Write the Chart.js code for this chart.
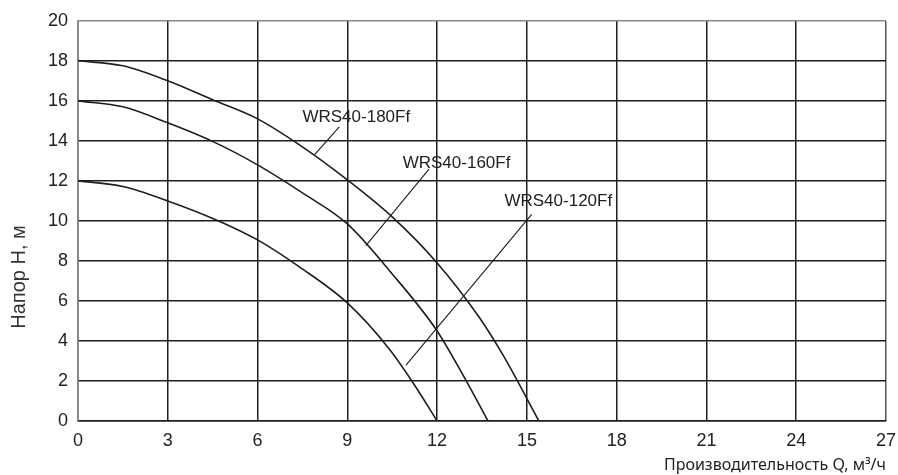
<!DOCTYPE html>
<html>
<head>
<meta charset="utf-8">
<script src="https://cdn.jsdelivr.net/npm/chart.js@4.4.1/dist/chart.umd.min.js"></script>
<style>
    html, body { margin: 0; padding: 0; background: #fff; }
    #wrap { width: 898px; height: 475px; }
</style>
</head>
<body>
<div id="wrap"><canvas id="pumpChart"></canvas></div>
<script>
// curve data: Q (m3/h) -> H (m)
const curve180Q = [0, 1.5, 3, 4.5, 6, 7.4, 9, 10.5, 12, 13.4, 14.2, 15.4];
const curve180H = [18, 17.75, 17.0, 16.05, 15.1, 13.8, 12.05, 10.2, 7.9, 5.2, 3.3, 0];

const curve160Q = [0, 1.5, 3, 4.6, 6, 7.5, 9, 10.5, 12, 12.9, 13.7];
const curve160H = [16, 15.7, 14.9, 13.9, 12.8, 11.4, 9.85, 7.35, 4.5, 2.2, 0];

const curve120Q = [0, 1.5, 3, 4.7, 6, 7.4, 9, 10.4, 11.2, 12];
const curve120H = [12, 11.72, 11.0, 10.0, 9.05, 7.7, 5.9, 3.6, 1.9, 0];

const curveNames = ['WRS40-180Ff', 'WRS40-160Ff', 'WRS40-120Ff'];
// label anchor (centre of text) and leader line ends, in data units
const labelQ = [9.3, 12.65, 16.05];
const labelH = [15.2, 12.9, 11.0];
const leaderQ = [[8.73, 7.9], [11.73, 9.62], [15.16, 10.96]];
const leaderH = [[14.7, 13.3], [12.59, 8.76], [10.33, 2.79]];

const xTicks = [0, 3, 6, 9, 12, 15, 18, 21, 24, 27];
const yTicks = [0, 2, 4, 6, 8, 10, 12, 14, 16, 18, 20];

function toPoints(qs, hs) {
    return qs.map(function (q, i) { return { x: q, y: hs[i] }; });
}

const lineColor = '#1e1e1e';

const datasets = [
    { data: toPoints(curve180Q, curve180H) },
    { data: toPoints(curve160Q, curve160H) },
    { data: toPoints(curve120Q, curve120H) }
].map(function (d) {
    return Object.assign(d, {
        showLine: true,
        borderColor: lineColor,
        borderWidth: 1.6,
        pointRadius: 0,
        cubicInterpolationMode: 'monotone',
        fill: false
    });
});

leaderQ.forEach(function (qs, i) {
    datasets.push({
        data: toPoints(qs, leaderH[i]),
        showLine: true,
        borderColor: lineColor,
        borderWidth: 1.1,
        pointRadius: 0,
        tension: 0
    });
});

const curveLabels = {
    id: 'curveLabels',
    afterDatasetsDraw(chart) {
        const ctx = chart.ctx;
        const xs = chart.scales.x, ys = chart.scales.y;
        ctx.save();
        ctx.font = '17px "Liberation Sans", Arial, sans-serif';
        ctx.fillStyle = '#222';
        ctx.textAlign = 'center';
        ctx.textBaseline = 'middle';
        curveNames.forEach(function (name, i) {
            ctx.fillText(name, xs.getPixelForValue(labelQ[i]), ys.getPixelForValue(labelH[i]));
        });
        // y axis title sits lower than the axis middle in the original
        ctx.translate(19, 277);
        ctx.rotate(-Math.PI / 2);
        ctx.font = '20px "Liberation Sans", Arial, sans-serif';
        ctx.fillStyle = '#333';
        ctx.fillText('Напор Н, м', 0, 0);
        ctx.restore();
    }
};

new Chart(document.getElementById('pumpChart').getContext('2d'), {
    type: 'scatter',
    data: { datasets: datasets },
    plugins: [curveLabels],
    options: {
        responsive: true,
        maintainAspectRatio: false,
        animation: false,
        layout: { padding: { top: 19, right: 12, left: 0, bottom: 0 } },
        plugins: {
            legend: { display: false },
            tooltip: { enabled: false }
        },
        scales: {
            x: {
                type: 'linear',
                min: 0,
                max: 27,
                afterBuildTicks: function (scale) {
                    scale.ticks = xTicks.map(function (v) { return { value: v }; });
                },
                afterFit: function (scale) {
                    scale.height = 54;
                    scale.paddingRight = 0;
                },
                grid: {
                    color: function (c) { return c.tick && c.tick.value === 27 ? '#555' : lineColor; },
                    lineWidth: 1.5,
                    drawTicks: false
                },
                border: { color: lineColor, width: 1.5 },
                ticks: {
                    color: '#222',
                    padding: 9,
                    maxRotation: 0,
                    font: { family: '"Liberation Sans", Arial, sans-serif', size: 18 }
                },
                title: {
                    display: true,
                    align: 'end',
                    text: 'Производительность Q, м³/ч',
                    color: '#222',
                    padding: { top: 0, bottom: 0 },
                    font: { family: '"Noto Sans", sans-serif', size: 16 }
                }
            },
            y: {
                min: 0,
                max: 20,
                afterBuildTicks: function (scale) {
                    scale.ticks = yTicks.map(function (v) { return { value: v }; });
                },
                afterFit: function (scale) { scale.width = 78; },
                grid: {
                    color: function (c) { return c.tick && c.tick.value === 20 ? '#888' : lineColor; },
                    lineWidth: 1.5,
                    drawTicks: false
                },
                border: { color: '#888', width: 1.5 },
                ticks: {
                    color: '#222',
                    padding: 10,
                    font: { family: '"Liberation Sans", Arial, sans-serif', size: 18 }
                }
            }
        }
    }
});
</script>
</body>
</html>
